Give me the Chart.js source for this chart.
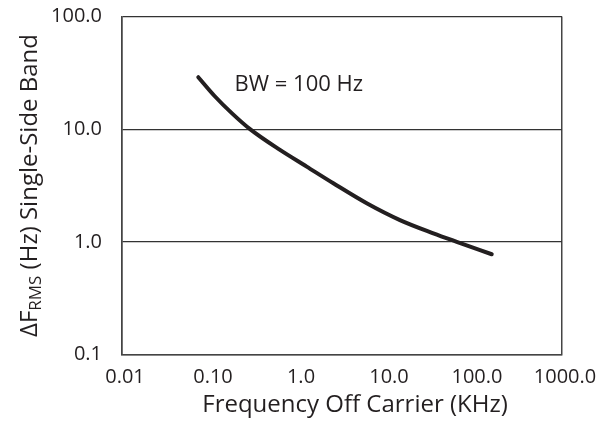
<!DOCTYPE html>
<html>
<head>
<meta charset="utf-8">
<script src="https://cdn.jsdelivr.net/npm/chart.js@4"></script>
<style>
  html, body { margin: 0; padding: 0; background: #fff; }
  canvas { display: block; }
</style>
</head>
<body>
<canvas id="chart" width="611" height="430"></canvas>
<script>
// ── DATA ──────────────────────────────────────────────────────────
const freqKHz = [0.0736, 0.112, 0.178, 0.285, 0.624, 1.256, 2.52, 6.04, 14.4, 34.5, 63.6, 159];
const deltaF  = [28.9, 19.8, 13.8, 10.0, 6.54, 4.65, 3.31, 2.20, 1.56, 1.19, 1.0, 0.776];

const xTickValues = [0.01, 0.1, 1, 10, 100, 1000];
const xTickLabels = ['0.01', '0.10', '1.0', '10.0', '100.0', '1000.0'];
const yTickValues = [0.1, 1, 10, 100];
const yTickLabels = ['0.1', '1.0', '10.0', '100.0'];

const noteText = 'BW = 100 Hz';
const xTitle = 'Frequency Off Carrier (KHz)';

const INK = '#231f20';
const FONT = '"Open Sans", "Noto Sans", sans-serif';

// ── PLUGINS ───────────────────────────────────────────────────────
// axis titles (y has the RMS subscript) and the BW note
const extraText = {
  id: 'extraText',
  afterDraw(chart) {
    const c = chart.ctx;
    const area = chart.chartArea;
    const x = chart.scales.x, y = chart.scales.y;

    c.save();
    c.fillStyle = INK;

    // BW note
    c.font = `22px ${FONT}`;
    c.textBaseline = 'alphabetic';
    c.textAlign = 'left';
    c.fillText(noteText, x.getPixelForValue(0.19), y.getPixelForValue(22));

    // x title, sits a little right of the plot centre in the original
    c.font = `24px ${FONT}`;
    c.textAlign = 'center';
    c.textBaseline = 'middle';
    c.fillText(xTitle, (area.left + area.right) / 2 + 13, 405.5);
    c.restore();

    // rotated y title
    const parts = [
      { t: '\u0394F', size: 24, dy: 0 },
      { t: 'RMS', size: 17, dy: 4 },
      { t: ' (Hz) Single-Side Band', size: 24, dy: 0 },
    ];
    c.save();
    let total = 0;
    parts.forEach(p => { c.font = `${p.size}px ${FONT}`; p.w = c.measureText(p.t).width; total += p.w; });
    c.translate(37, (area.top + area.bottom) / 2);
    c.rotate(-Math.PI / 2);
    c.fillStyle = INK;
    c.textBaseline = 'alphabetic';
    c.textAlign = 'left';
    let pos = -total / 2;
    parts.forEach(p => {
      c.font = `${p.size}px ${FONT}`;
      c.fillText(p.t, pos, p.dy);
      pos += p.w;
    });
    c.restore();
  }
};

// ── CHART ─────────────────────────────────────────────────────────
new Chart(document.getElementById('chart'), {
  type: 'line',
  data: {
    datasets: [{
      data: freqKHz.map((f, i) => ({ x: f, y: deltaF[i] })),
      borderColor: INK,
      borderWidth: 4,
      borderCapStyle: 'round',
      pointRadius: 0,
      fill: false,
      cubicInterpolationMode: 'monotone',
    }],
  },
  options: {
    responsive: false,
    animation: false,
    layout: { padding: { top: 16.5, right: 49, bottom: 0, left: 0 } },
    plugins: { legend: { display: false }, tooltip: { enabled: false } },
    scales: {
      x: {
        type: 'logarithmic',
        min: 0.01,
        max: 1000,
        afterBuildTicks: s => { s.ticks = xTickValues.map(v => ({ value: v })); },
        afterFit: s => { s.height = 75.5; },
        ticks: {
          autoSkip: false,
          maxRotation: 0,
          padding: 11,
          labelOffset: 3,
          color: INK,
          font: { family: FONT, size: 20 },
          callback: (v, i) => xTickLabels[i],
        },
        grid: {
          drawTicks: false,
          color: ctx => (ctx.index === 0 || ctx.index === xTickValues.length - 1) ? '#444' : 'rgba(0,0,0,0)',
          lineWidth: 1.5,
        },
        border: { color: '#444', width: 1.5 },
      },
      y: {
        type: 'logarithmic',
        min: 0.1,
        max: 100,
        afterBuildTicks: s => { s.ticks = yTickValues.map(v => ({ value: v })); },
        afterFit: s => { s.width = 122; s.paddingTop = 0; s.paddingBottom = 0; },
        ticks: {
          autoSkip: false,
          padding: 20,
          color: INK,
          font: { family: FONT, size: 20 },
          callback: (v, i) => yTickLabels[i],
        },
        grid: {
          drawTicks: false,
          color: '#333',
          lineWidth: 1.2,
        },
        border: { color: '#444', width: 1.5 },
      },
    },
  },
  plugins: [extraText],
});
</script>
</body>
</html>
